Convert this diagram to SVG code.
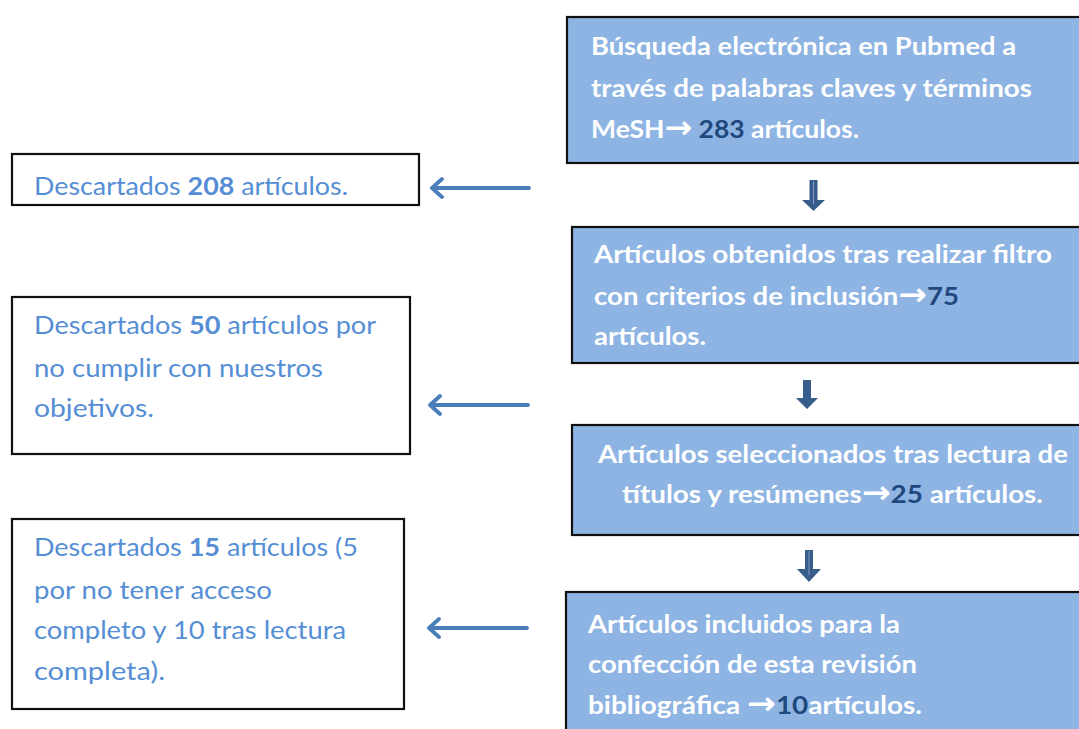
<svg xmlns="http://www.w3.org/2000/svg" width="1079" height="729" viewBox="0 0 1079 729">
<style>
.main{fill:#8EB4E3;stroke:#111;stroke-width:2.2}
.side{fill:#fff;stroke:#111;stroke-width:2.2}
.mt{font-family:Lato,"Liberation Sans",sans-serif;font-weight:bold;font-size:25px;fill:#fff}
.num{fill:#1F497D}
.ar{font-family:"DejaVu Sans",sans-serif;font-weight:bold;font-size:31px}
.st{font-family:Lato,"Liberation Sans",sans-serif;font-size:25px;fill:#558ED5}
.b{font-weight:bold}
.la{fill:none;stroke:#4A7EBB;stroke-width:3.8;stroke-linecap:round;stroke-linejoin:round}
.da{fill:#385D8A}
.hl{stroke:#7F9CC4;stroke-width:1}
</style>
<rect width="1079" height="729" fill="#fff"/>

<g id="n1">
<rect class="main" x="567" y="17" width="520" height="146"/>
<text class="mt" x="591" y="55" textLength="425" lengthAdjust="spacingAndGlyphs">Búsqueda electrónica en Pubmed a</text>
<text class="mt" x="591" y="97" textLength="441" lengthAdjust="spacingAndGlyphs">través de palabras claves y términos</text>
<text class="mt" x="591" y="138" textLength="268" lengthAdjust="spacingAndGlyphs">MeSH<tspan class="ar">→</tspan> <tspan class="num">283</tspan> artículos.</text>
</g>

<g id="n2">
<rect class="main" x="572" y="227" width="515" height="136"/>
<text class="mt" x="594" y="263" textLength="458" lengthAdjust="spacingAndGlyphs">Artículos obtenidos tras realizar filtro</text>
<text class="mt" x="594" y="305" textLength="365" lengthAdjust="spacingAndGlyphs">con criterios de inclusión<tspan class="ar">→</tspan><tspan class="num">75</tspan></text>
<text class="mt" x="594" y="345" textLength="112" lengthAdjust="spacingAndGlyphs">artículos.</text>
</g>

<g id="n3">
<rect class="main" x="572" y="425" width="515" height="110"/>
<text class="mt" x="598" y="463" textLength="470" lengthAdjust="spacingAndGlyphs">Artículos seleccionados tras lectura de</text>
<text class="mt" x="622" y="503" textLength="421" lengthAdjust="spacingAndGlyphs">títulos y resúmenes<tspan class="ar">→</tspan><tspan class="num">25</tspan> artículos.</text>
</g>

<g id="n4">
<rect class="main" x="566" y="592" width="521" height="150"/>
<text class="mt" x="588" y="633" textLength="312" lengthAdjust="spacingAndGlyphs">Artículos incluidos para la</text>
<text class="mt" x="588" y="673" textLength="329" lengthAdjust="spacingAndGlyphs">confección de esta revisión</text>
<text class="mt" x="588" y="714" textLength="334" lengthAdjust="spacingAndGlyphs">bibliográfica <tspan class="ar">→</tspan><tspan class="num">10</tspan>artículos.</text>
</g>

<g id="d1">
<rect class="side" x="12" y="154" width="407" height="51"/>
<text class="st" x="34" y="195" textLength="314" lengthAdjust="spacingAndGlyphs">Descartados <tspan class="b">208</tspan> artículos.</text>
</g>

<g id="d2">
<rect class="side" x="12" y="297" width="398" height="157"/>
<text class="st" x="34" y="334" textLength="342" lengthAdjust="spacingAndGlyphs">Descartados <tspan class="b">50</tspan> artículos por</text>
<text class="st" x="34" y="377" textLength="289" lengthAdjust="spacingAndGlyphs">no cumplir con nuestros</text>
<text class="st" x="34" y="417" textLength="120" lengthAdjust="spacingAndGlyphs">objetivos.</text>
</g>

<g id="d3">
<rect class="side" x="12" y="519" width="392" height="190"/>
<text class="st" x="34" y="556" textLength="324" lengthAdjust="spacingAndGlyphs">Descartados <tspan class="b">15</tspan> artículos (5</text>
<text class="st" x="34" y="599" textLength="238" lengthAdjust="spacingAndGlyphs">por no tener acceso</text>
<text class="st" x="34" y="639" textLength="312" lengthAdjust="spacingAndGlyphs">completo y 10 tras lectura</text>
<text class="st" x="34" y="680" textLength="131" lengthAdjust="spacingAndGlyphs">completa).</text>
</g>

<g id="connectors">
<path class="da" d="M809.5,180 H817.5 V200 H825 L813.5,211 L802,200 H809.5 Z"/>
<line class="hl" x1="813.5" y1="181" x2="813.5" y2="204"/>
<path class="da" d="M803,380 H811 V398 H818 L807,409 L796,398 H803 Z"/>
<path class="da" d="M805,550 H813 V569 H821 L809,582 L797,569 H805 Z"/>
<line class="hl" x1="809" y1="551" x2="809" y2="575"/>
<path class="la" d="M529,188 H432 M442,179 L432,188 L442,197"/>
<path class="la" d="M528,405 H430 M440,396 L430,405 L440,414"/>
<path class="la" d="M527,628 H429 M439,619 L429,628 L439,637"/>
</g>
</svg>
